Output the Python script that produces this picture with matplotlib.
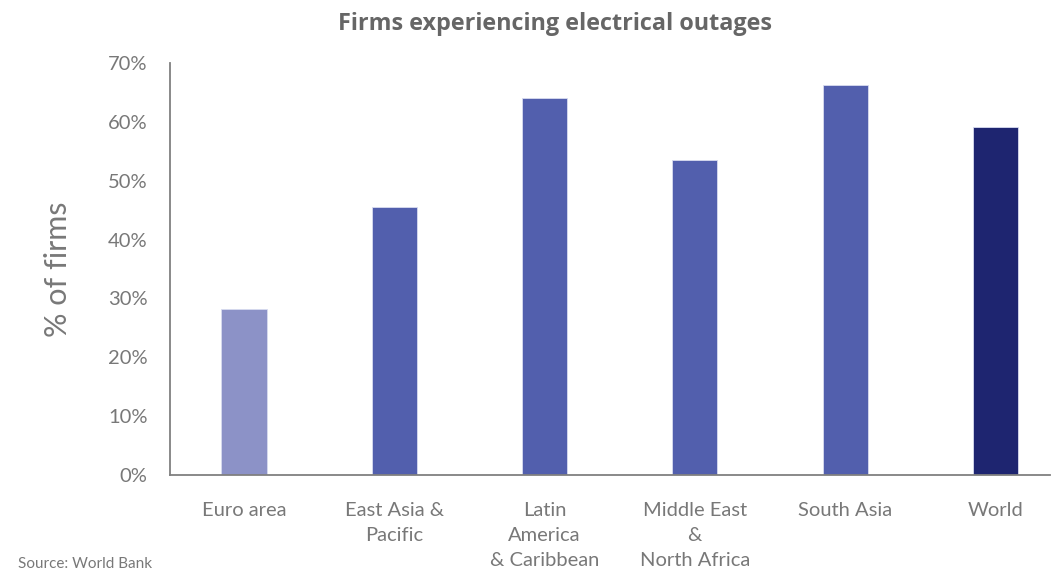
import matplotlib
matplotlib.use("Agg")
import matplotlib.pyplot as plt
from matplotlib.ticker import FuncFormatter

categories = ["Euro area", "East Asia &\nPacific", "Latin\nAmerica\n& Caribbean",
              "Middle East\n&\nNorth Africa", "South Asia", "World"]
values = [28.2, 45.6, 64.1, 53.5, 66.3, 59.1]
colors = ["#8C92C7", "#525FAD", "#525FAD", "#525FAD", "#525FAD", "#1E2570"]
yticks = [0, 10, 20, 30, 40, 50, 60, 70]

plt.rcParams['font.family'] = ['Lato', 'DejaVu Sans']
gray = "#787878"

fig = plt.figure(figsize=(10.62, 5.78), dpi=100)
ax = fig.add_axes([0.160, 0.178, 0.829, 0.713])
x = list(range(len(categories)))
ax.bar(x, values, width=0.3, color=colors, edgecolor="#d8dcf0", linewidth=0.6, zorder=2)
ax.set_ylim(0, 70)
ax.set_xlim(-0.493, 5.366)
ax.set_yticks(yticks)
ax.yaxis.set_major_formatter(FuncFormatter(lambda v, p: f"{int(v)}%"))
ax.set_xticks(x)
ax.set_xticklabels(categories, linespacing=1.6)
ax.tick_params(axis='y', length=0, pad=16, labelsize=14.5, labelcolor=gray)
ax.tick_params(axis='x', length=0, pad=19, labelsize=14.5, labelcolor=gray)
for s in ["top", "right"]:
    ax.spines[s].set_visible(False)
for s in ["left", "bottom"]:
    ax.spines[s].set_color("#808080")
    ax.spines[s].set_linewidth(1.3)
ax.set_ylabel("% of firms", fontsize=22, color=gray, labelpad=26)

fig.text(0.523, 0.958, "Firms experiencing electrical outages", ha='center', va='center',
         fontsize=16.8, fontweight='bold', color="#666666", family=['Open Sans', 'DejaVu Sans'])
fig.text(0.017, 0.012, "Source: World Bank", ha='left', va='bottom', fontsize=11,
         color=gray)

fig.savefig("out.png", dpi=100)
